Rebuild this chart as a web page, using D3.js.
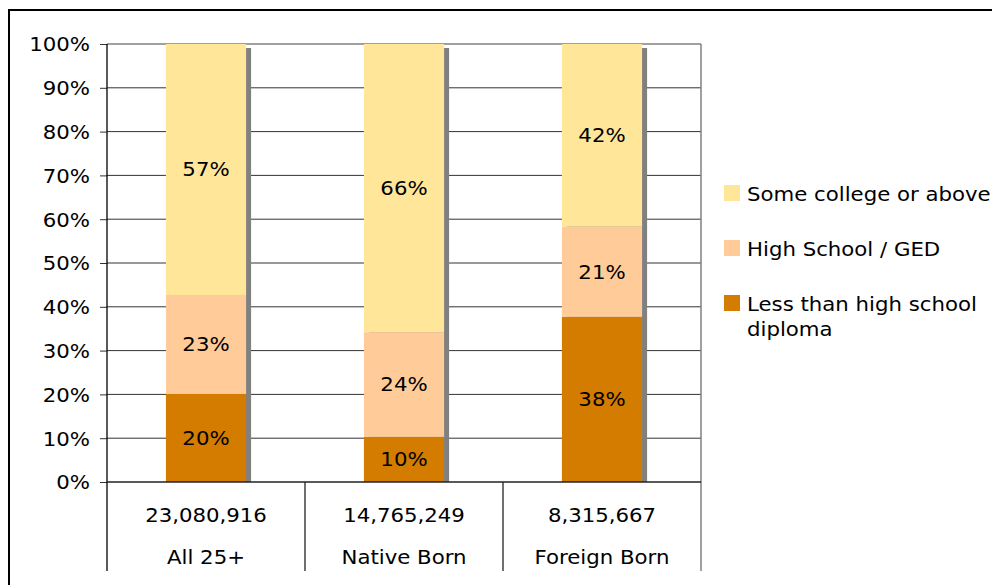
<!DOCTYPE html>
<html>
<head>
<meta charset="utf-8">
<script src="https://cdn.jsdelivr.net/npm/d3@7/dist/d3.min.js"></script>
<style>
  html, body { margin: 0; padding: 0; background: #fff; }
  svg { display: block; }
  text { font-family: "DejaVu Sans", Verdana, sans-serif; font-size: 19px; fill: #000; }
</style>
</head>
<body>
<svg id="chart" width="992" height="585"></svg>
<script>
// ---- data ----
const categories = ["All 25+", "Native Born", "Foreign Born"];
const totals = ["23,080,916", "14,765,249", "8,315,667"];
const seriesNames = ["Less than high school diploma", "High School / GED", "Some college or above"];
const lessThanHS = [0.201, 0.103, 0.377];
const highSchool = [0.226, 0.239, 0.206];
const someCollege = [0.573, 0.658, 0.417];
const yTicks = [0, 0.1, 0.2, 0.3, 0.4, 0.5, 0.6, 0.7, 0.8, 0.9, 1.0];
const colors = ["#D47C00", "#FFCC99", "#FFE699"];

// ---- layout ----
const svg = d3.select("#chart");
const SX = 1.12; // horizontal stretch of the glyphs
const plot = { left: 107, right: 701, top: 44, bottom: 482 };
const tableBottom = 571;

const rows = categories.map((c, i) => ({
  cat: c,
  [seriesNames[0]]: lessThanHS[i],
  [seriesNames[1]]: highSchool[i],
  [seriesNames[2]]: someCollege[i]
}));
const stacked = d3.stack().keys(seriesNames)(rows);

const x = d3.scaleBand().domain(categories).range([plot.left, plot.right]).padding(0);
const y = d3.scaleLinear().domain([0, 1]).range([plot.bottom, plot.top]);
const barW = x.bandwidth() * 0.405;

function stretchedText(parent, tx, ty, anchor, str) {
  parent.append("g")
    .attr("transform", `translate(${tx},${ty}) scale(${SX},1)`)
    .append("text")
    .attr("text-anchor", anchor)
    .text(str);
}

// outer border
svg.append("rect")
  .attr("x", 9).attr("y", 10)
  .attr("width", 1100).attr("height", 700)
  .attr("fill", "none").attr("stroke", "#000").attr("stroke-width", 2);

// gridlines
svg.append("g").selectAll("line")
  .data(yTicks.filter(t => t > 0 && t < 1))
  .join("line")
  .attr("x1", plot.left).attr("x2", plot.right)
  .attr("y1", d => y(d)).attr("y2", d => y(d))
  .attr("stroke", "#333").attr("stroke-width", 1);

// plot area border (top and right, gray)
svg.append("line")
  .attr("x1", plot.left).attr("x2", plot.right)
  .attr("y1", y(1)).attr("y2", y(1))
  .attr("stroke", "#808080").attr("stroke-width", 1.5);
svg.append("line")
  .attr("x1", plot.right).attr("x2", plot.right)
  .attr("y1", y(1)).attr("y2", tableBottom)
  .attr("stroke", "#808080").attr("stroke-width", 1.5);

// shadows
svg.append("g").selectAll("rect")
  .data(categories)
  .join("rect")
  .attr("x", d => x(d) + x.bandwidth() / 2 - barW / 2 + 5)
  .attr("y", y(1) + 4)
  .attr("width", barW)
  .attr("height", y(0) - y(1) - 4)
  .attr("fill", "#808080");

// bars
const layers = svg.append("g").selectAll("g")
  .data(stacked)
  .join("g")
  .attr("fill", (d, i) => colors[i]);
layers.selectAll("rect")
  .data(d => d)
  .join("rect")
  .attr("x", d => x(d.data.cat) + x.bandwidth() / 2 - barW / 2)
  .attr("y", d => y(d[1]))
  .attr("width", barW)
  .attr("height", d => y(d[0]) - y(d[1]));

// data labels
const labelG = svg.append("g");
stacked.forEach(layer => {
  layer.forEach(d => {
    const cx = x(d.data.cat) + x.bandwidth() / 2;
    const cy = (y(d[0]) + y(d[1])) / 2 + 6.8;
    stretchedText(labelG, cx, cy, "middle", Math.round((d[1] - d[0]) * 100) + "%");
  });
});

// y axis
const yAxis = d3.axisLeft(y)
  .tickValues(yTicks)
  .tickFormat(d => Math.round(d * 100) + "%")
  .tickSize(7)
  .tickSizeOuter(0);
const yg = svg.append("g").attr("transform", `translate(${plot.left},0)`).call(yAxis);
yg.select(".domain").remove();
yg.selectAll(".tick line").attr("stroke", "#333");
yg.selectAll(".tick text")
  .attr("x", 0).attr("dy", null)
  .attr("transform", `translate(-17,6.8) scale(${SX},1)`)
  .attr("font-family", null).attr("font-size", null)
  .attr("fill", "#000");

// left axis line (down through the table)
svg.append("line")
  .attr("x1", plot.left).attr("x2", plot.left)
  .attr("y1", y(1)).attr("y2", tableBottom)
  .attr("stroke", "#000").attr("stroke-width", 1.3);

// category axis baseline
svg.append("line")
  .attr("x1", plot.left).attr("x2", plot.right)
  .attr("y1", y(0)).attr("y2", y(0))
  .attr("stroke", "#222").attr("stroke-width", 1.5);

// category dividers
svg.append("g").selectAll("line")
  .data(categories.slice(1))
  .join("line")
  .attr("x1", d => x(d)).attr("x2", d => x(d))
  .attr("y1", y(0)).attr("y2", tableBottom)
  .attr("stroke", "#222").attr("stroke-width", 1.3);

// table text
const tableG = svg.append("g");
categories.forEach((c, i) => {
  const cx = x(c) + x.bandwidth() / 2;
  stretchedText(tableG, cx, 522, "middle", totals[i]);
  stretchedText(tableG, cx, 564, "middle", c);
});

// legend
const legendOrder = [2, 1, 0];
const legendLines = [["Some college or above"], ["High School / GED"], ["Less than high school", "diploma"]];
const legG = svg.append("g");
legendOrder.forEach((si, k) => {
  const base = 201 + k * 55;
  legG.append("rect")
    .attr("x", 724).attr("y", base - 16)
    .attr("width", 16).attr("height", 16)
    .attr("fill", colors[si]);
  legendLines[k].forEach((ln, j) => {
    stretchedText(legG, 747, base + j * 25, "start", ln);
  });
});
</script>
</body>
</html>
